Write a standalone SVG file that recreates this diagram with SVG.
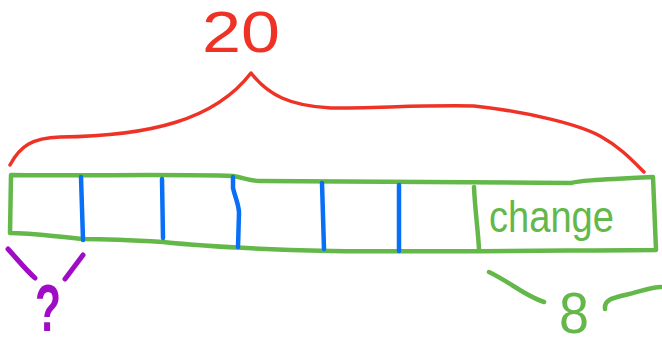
<svg xmlns="http://www.w3.org/2000/svg" width="662" height="348" viewBox="0 0 662 348">
<style>
.s{fill:none;stroke-linecap:round;stroke-linejoin:round}
.red{stroke:#ee3326;stroke-width:3.5}
.grn{stroke:#64b84a;stroke-width:4.5}
.blu{stroke:#0a6ff7;stroke-width:4.5}
.pur{stroke:#a00cc6;stroke-width:5}
.t{font-family:"Liberation Sans",Arial,sans-serif}
</style>
<rect width="662" height="348" fill="#ffffff"/>
<g id="total">
<path class="s red" d="M10,165 C20,146 32,138 60,137 C150,136 215,120 251,73 C268,95 290,106 331,108 C380,108 420,105 474,106 C530,112 580,125 600,136 C620,147 632,160 644,172"/>
<text class="t" x="241" y="52" font-size="58" fill="#ee3326" text-anchor="middle" textLength="78" lengthAdjust="spacingAndGlyphs">20</text>
</g>
<g id="tape">
<path class="s grn" d="M12,175 C80,176 180,174 233,176 C245,178 250,181 260,181 C350,182 450,183 571,183 C578,181 590,180 653,177 L656,250 C500,251 420,252 331,251 C250,249 200,246 163,242 C130,240 100,239 83,239 C50,236 30,233 10,233 L11,175"/>
<path class="s grn" d="M474,187 C475,210 478,230 479,249"/>
</g>
<g id="dividers">
<path class="s blu" d="M81,177 L83,240"/>
<path class="s blu" d="M162,179 L163,238"/>
<path class="s blu" d="M233,177 L233,188 C235,197 239,205 239,213 L238,247"/>
<path class="s blu" d="M322,183 L324,249"/>
<path class="s blu" d="M399,185 L399,251"/>
</g>
<g id="change">
<text class="t" x="489" y="232" font-size="44" fill="#64b84a" textLength="125" lengthAdjust="spacingAndGlyphs">change</text>
</g>
<g id="eight">
<path class="s grn" d="M489,272 C510,282 525,296 544,302"/>
<path class="s grn" d="M605,309 C604,300 612,298 625,295 C640,292 650,287 661,287"/>
<text class="t" x="574" y="333" font-size="58" fill="#64b84a" text-anchor="middle" textLength="30" lengthAdjust="spacingAndGlyphs">8</text>
</g>
<g id="unknown">
<path class="s pur" d="M8,249 C18,260 26,270 35,278"/>
<path class="s pur" d="M83,255 L65,279"/>
<text class="t" x="48" y="331" font-size="66" font-weight="bold" fill="#a00cc6" text-anchor="middle" textLength="26" lengthAdjust="spacingAndGlyphs">?</text>
</g>
</svg>
